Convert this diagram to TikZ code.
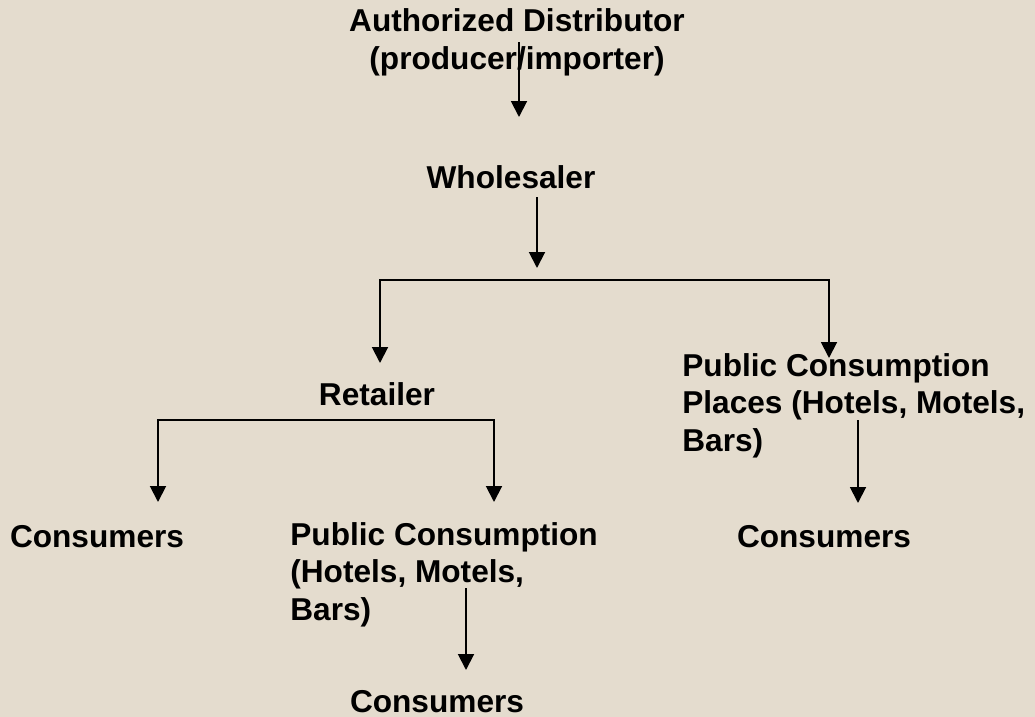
\documentclass[tikz,border=0pt]{standalone}
\usepackage{fontspec}
\setmainfont{Liberation Sans}
\usetikzlibrary{arrows.meta}
\definecolor{paper}{RGB}{228,220,206}
\begin{document}
\begin{tikzpicture}[x=0.02cm, y=0.02cm,
        lbl/.style={inner sep=0pt, font=\bfseries\fontsize{18}{21.3}\selectfont},
        arr/.style={line width=1.1pt, -{Triangle[width=9pt,length=9pt]}},
        fork/.style={line width=1.1pt, {Triangle[width=9pt,length=9pt]}-{Triangle[width=9pt,length=9pt]}}]
        % The paper
        \fill[paper] (0,0) rectangle (1035,-717);
        \useasboundingbox (0,0) rectangle (1035,-717);

        % Distributor and Wholesaler
        \node[lbl, align=center, anchor=base] (dist) at (517,-69) {Authorized Distributor\\(producer/importer)};
        \node[lbl, anchor=base] (whole) at (511,-188) {Wholesaler};

        % Second level
        \node[lbl, anchor=base] (ret) at (377,-405) {Retailer};
        \node[lbl, align=left, anchor=base west] (pubA) at (682,-451) {Public Consumption\\Places (Hotels, Motels,\\Bars)};

        % Third level
        \node[lbl, anchor=base] (consA) at (97,-547) {Consumers};
        \node[lbl, align=left, anchor=base west] (pubB) at (290,-620) {Public Consumption\\(Hotels, Motels,\\Bars)};
        \node[lbl, anchor=base] (consC) at (824,-547) {Consumers};
        \node[lbl, anchor=base] (consB) at (437,-712) {Consumers};

        % Where the arrows end
        \coordinate (inWhole) at (519,-117);
        \coordinate (inSplit) at (537,-268);
        \coordinate (inRet) at (380,-363);
        \coordinate (inPubA) at (829,-358);
        \coordinate (inConsA) at (158,-502);
        \coordinate (inPubB) at (494,-502);
        \coordinate (inConsC) at (858,-503);
        \coordinate (inConsB) at (466,-670);

        % Arrows
        \draw[arr] (dist.center -| inWhole) -- (inWhole);
        \draw[arr] ([yshift=-5pt]whole.south -| inSplit) -- (inSplit);
        \draw[fork] (inRet) -- ++(0,83) -| (inPubA);
        \draw[fork] (inConsA) -- ++(0,82) -| (inPubB);
        \draw[arr] ([yshift=-8.5pt]pubA.center -| inConsC) -- (inConsC);
        \draw[arr] ([yshift=-8pt]pubB.center -| inConsB) -- (inConsB);
    \end{tikzpicture}
\end{document}
